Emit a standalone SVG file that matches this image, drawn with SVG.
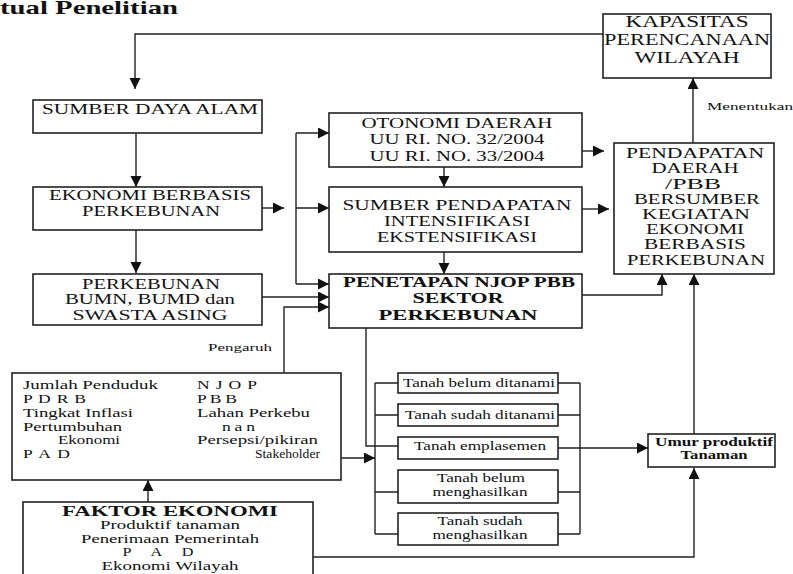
<svg xmlns="http://www.w3.org/2000/svg" width="793" height="574" viewBox="0 0 793 574" font-family="'Liberation Serif', 'Times New Roman', serif">
<defs>
<marker id="ah" markerUnits="userSpaceOnUse" markerWidth="12" markerHeight="12" refX="11" refY="5.5" orient="auto">
<path d="M0,0 L11,5.5 L0,11 Z" fill="#111"/>
</marker>
<style>
.box{fill:#fff;stroke:#222;stroke-width:1.6}
.ln{fill:none;stroke:#222;stroke-width:1.4}
.ar{fill:none;stroke:#222;stroke-width:1.4;marker-end:url(#ah)}
text{font-family:'Liberation Serif','Times New Roman',serif;fill:#111}
.c{text-anchor:middle}
.t15{font-size:15px}
.t14{font-size:14px}
.t17{font-size:17px}
.t13{font-size:13px}
.t12{font-size:12px}
.t11{font-size:11px}
.b{font-weight:bold}
</style>
</defs>
<rect width="793" height="574" fill="#fff"/>
<text x="0" y="14" class="b" font-size="19" font-family="'DejaVu Serif', serif" textLength="178" lengthAdjust="spacingAndGlyphs">tual Penelitian</text>

<g id="connectors">
<path class="ar" d="M603,34 H135 V89"/>
<path class="ar" d="M136,133 V187"/>
<path class="ar" d="M136,230 V273"/>
<path class="ar" d="M262,208 H284"/>
<path class="ln" d="M296,133 V284"/>
<path class="ar" d="M296,133 H329"/>
<path class="ar" d="M296,208 H329"/>
<path class="ar" d="M296,284 H329"/>
<path class="ar" d="M262,297 H329"/>
<path class="ar" d="M284,373 V307 H329"/>
<path class="ar" d="M444,167 V187"/>
<path class="ar" d="M444,252 V274"/>
<path class="ar" d="M582,151 H604"/>
<path class="ar" d="M582,209 H609"/>
<path class="ar" d="M582,295 H662 V274"/>
<path class="ar" d="M693,143 V78"/>
<path class="ln" d="M366,328 V446 H398"/>
<path class="ln" d="M375,383 V534"/>
<path class="ln" d="M375,383 H398 M375,415 H398 M375,492 H398 M375,534 H398"/>
<path class="ar" d="M341,458 H375"/>
<path class="ln" d="M580,383 V534"/>
<path class="ln" d="M558,383 H580 M558,415 H580 M558,492 H580 M558,534 H580"/>
<path class="ar" d="M558,448 H648"/>
<path class="ar" d="M694,434 V274"/>
<path class="ar" d="M313,557 H694 V468"/>
<path class="ar" d="M148,502 V480"/>
<text x="208" y="351" class="t11" textLength="64" lengthAdjust="spacingAndGlyphs">Pengaruh</text>
<text x="707" y="110" class="t11" textLength="86" lengthAdjust="spacingAndGlyphs">Menentukan</text>
</g>

<g id="kapasitas">
<rect class="box" x="603" y="14" width="168" height="64"/>
<text x="687" y="27" class="c t17" textLength="123" lengthAdjust="spacingAndGlyphs">KAPASITAS</text>
<text x="687" y="45" class="c t17" textLength="166" lengthAdjust="spacingAndGlyphs">PERENCANAAN</text>
<text x="687" y="63" class="c t17" textLength="105" lengthAdjust="spacingAndGlyphs">WILAYAH</text>
</g>

<g id="sda">
<rect class="box" x="33" y="100" width="229" height="33"/>
<text x="150" y="114" class="c t15" textLength="216" lengthAdjust="spacingAndGlyphs">SUMBER DAYA ALAM</text>
</g>

<g id="ekonomi">
<rect class="box" x="33" y="187" width="229" height="43"/>
<text x="150" y="200" class="c t15" textLength="202" lengthAdjust="spacingAndGlyphs">EKONOMI BERBASIS</text>
<text x="151" y="216" class="c t15" textLength="138" lengthAdjust="spacingAndGlyphs">PERKEBUNAN</text>
</g>

<g id="perkebunan">
<rect class="box" x="33" y="274" width="229" height="51"/>
<text x="151" y="289" class="c t15" textLength="138" lengthAdjust="spacingAndGlyphs">PERKEBUNAN</text>
<text x="150" y="304" class="c t15" textLength="170" lengthAdjust="spacingAndGlyphs">BUMN, BUMD dan</text>
<text x="150" y="320" class="c t15" textLength="155" lengthAdjust="spacingAndGlyphs">SWASTA ASING</text>
</g>

<g id="otonomi">
<rect class="box" x="329" y="113" width="253" height="54"/>
<text x="457" y="128" class="c t15" textLength="191" lengthAdjust="spacingAndGlyphs">OTONOMI DAERAH</text>
<text x="457" y="144" class="c t15" textLength="175" lengthAdjust="spacingAndGlyphs">UU RI. NO. 32/2004</text>
<text x="457" y="161" class="c t15" textLength="175" lengthAdjust="spacingAndGlyphs">UU RI. NO. 33/2004</text>
</g>

<g id="sumber-pendapatan">
<rect class="box" x="329" y="187" width="253" height="65"/>
<text x="457" y="210" class="c t15" textLength="229" lengthAdjust="spacingAndGlyphs">SUMBER PENDAPATAN</text>
<text x="457" y="226" class="c t15" textLength="146" lengthAdjust="spacingAndGlyphs">INTENSIFIKASI</text>
<text x="457" y="242" class="c t15" textLength="160" lengthAdjust="spacingAndGlyphs">EKSTENSIFIKASI</text>
</g>

<g id="penetapan">
<rect class="box" x="329" y="274" width="253" height="54"/>
<text x="459" y="287" class="c t15 b" textLength="232" lengthAdjust="spacingAndGlyphs">PENETAPAN NJOP PBB</text>
<text x="458" y="303" class="c t15 b" textLength="91" lengthAdjust="spacingAndGlyphs">SEKTOR</text>
<text x="458" y="320" class="c t15 b" textLength="159" lengthAdjust="spacingAndGlyphs">PERKEBUNAN</text>
</g>

<g id="pendapatan-daerah">
<rect class="box" x="614" y="143" width="160" height="131"/>
<text x="695" y="158" class="c t15" textLength="138" lengthAdjust="spacingAndGlyphs">PENDAPATAN</text>
<text x="695" y="173" class="c t15" textLength="87" lengthAdjust="spacingAndGlyphs">DAERAH</text>
<text x="693" y="189" class="c t15" textLength="56" lengthAdjust="spacingAndGlyphs">/PBB</text>
<text x="697" y="204" class="c t15" textLength="126" lengthAdjust="spacingAndGlyphs">BERSUMBER</text>
<text x="696" y="219" class="c t15" textLength="108" lengthAdjust="spacingAndGlyphs">KEGIATAN</text>
<text x="695" y="234" class="c t15" textLength="98" lengthAdjust="spacingAndGlyphs">EKONOMI</text>
<text x="695" y="249" class="c t15" textLength="102" lengthAdjust="spacingAndGlyphs">BERBASIS</text>
<text x="696" y="265" class="c t15" textLength="138" lengthAdjust="spacingAndGlyphs">PERKEBUNAN</text>
</g>

<g id="indikator">
<rect class="box" x="12" y="373" width="329" height="107"/>
<text x="23" y="389" class="t13" textLength="135" lengthAdjust="spacingAndGlyphs">Jumlah Penduduk</text>
<text transform="translate(23 403) scale(1.35 1)" class="t13" textLength="46.7" lengthAdjust="spacing">P D R B</text>
<text x="23" y="417" class="t13" textLength="110" lengthAdjust="spacingAndGlyphs">Tingkat Inflasi</text>
<text x="23" y="431" class="t13" textLength="99" lengthAdjust="spacingAndGlyphs">Pertumbuhan</text>
<text x="58" y="444" class="t13" textLength="62" lengthAdjust="spacingAndGlyphs">Ekonomi</text>
<text transform="translate(23 458) scale(1.35 1)" class="t13" textLength="34.8" lengthAdjust="spacing">P A D</text>
<text transform="translate(197 389) scale(1.35 1)" class="t13" textLength="44.4" lengthAdjust="spacing">N J O P</text>
<text transform="translate(197 403) scale(1.35 1)" class="t13" textLength="29.6" lengthAdjust="spacing">P B B</text>
<text x="197" y="417" class="t13" textLength="113" lengthAdjust="spacingAndGlyphs">Lahan Perkebu</text>
<text transform="translate(222 431) scale(1.35 1)" class="t13" textLength="24.4" lengthAdjust="spacing">nan</text>
<text x="197" y="444" class="t13" textLength="121" lengthAdjust="spacingAndGlyphs">Persepsi/pikiran</text>
<text x="255" y="458" class="t13" textLength="65" lengthAdjust="spacingAndGlyphs">Stakeholder</text>
</g>

<g id="faktor-ekonomi">
<rect class="box" x="23" y="502" width="290" height="80"/>
<text x="170" y="516" class="c t14 b" textLength="216" lengthAdjust="spacingAndGlyphs">FAKTOR EKONOMI</text>
<text x="170" y="529" class="c t12" textLength="140" lengthAdjust="spacingAndGlyphs">Produktif tanaman</text>
<text x="170" y="543" class="c t12" textLength="178" lengthAdjust="spacingAndGlyphs">Penerimaan Pemerintah</text>
<text transform="translate(158 556) scale(1.35 1)" class="c t12" textLength="52.6" lengthAdjust="spacing">P A D</text>
<text x="170" y="570" class="c t12" textLength="137" lengthAdjust="spacingAndGlyphs">Ekonomi Wilayah</text>
</g>

<g id="tanah-belum-ditanami">
<rect class="box" x="398" y="373" width="160" height="20"/>
<text x="479" y="387" class="c t12" textLength="152" lengthAdjust="spacingAndGlyphs">Tanah belum ditanami</text>
</g>
<g id="tanah-sudah-ditanami">
<rect class="box" x="398" y="404" width="160" height="22"/>
<text x="480" y="419" class="c t12" textLength="150" lengthAdjust="spacingAndGlyphs">Tanah sudah ditanami</text>
</g>
<g id="tanah-emplasemen">
<rect class="box" x="398" y="437" width="160" height="22"/>
<text x="480" y="450" class="c t12" textLength="132" lengthAdjust="spacingAndGlyphs">Tanah emplasemen</text>
</g>
<g id="tanah-belum-menghasilkan">
<rect class="box" x="398" y="470" width="160" height="33"/>
<text x="481" y="482" class="c t12" textLength="88" lengthAdjust="spacingAndGlyphs">Tanah belum</text>
<text x="480" y="496" class="c t12" textLength="95" lengthAdjust="spacingAndGlyphs">menghasilkan</text>
</g>
<g id="tanah-sudah-menghasilkan">
<rect class="box" x="398" y="513" width="160" height="32"/>
<text x="480" y="525" class="c t12" textLength="85" lengthAdjust="spacingAndGlyphs">Tanah sudah</text>
<text x="480" y="539" class="c t12" textLength="95" lengthAdjust="spacingAndGlyphs">menghasilkan</text>
</g>

<g id="umur-produktif">
<rect class="box" x="648" y="434" width="127" height="33"/>
<text x="714" y="446" class="c t12 b" textLength="118" lengthAdjust="spacingAndGlyphs">Umur produktif</text>
<text x="714" y="459" class="c t12 b" textLength="67" lengthAdjust="spacingAndGlyphs">Tanaman</text>
</g>
</svg>
